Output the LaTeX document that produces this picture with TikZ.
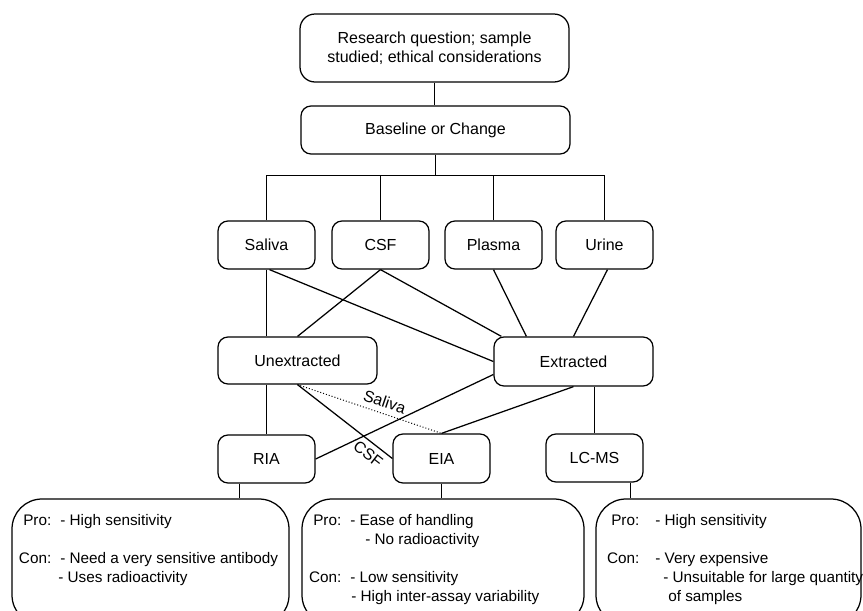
\documentclass[tikz,border=0pt]{standalone}
\usepackage{fontspec}
\setmainfont{Liberation Sans}
\usepackage{tikz}
\usetikzlibrary{positioning}

\begin{document}
\fontsize{16}{19}\selectfont
\begin{tikzpicture}[x=1pt,y=-1pt,line width=1.25pt,
  box/.style={draw,rounded corners=10pt,inner sep=0pt,minimum width=97pt,minimum height=48pt,align=center},
  bigbox/.style={draw,rounded corners=30pt,inner sep=0pt,minimum height=126pt},
  protext/.style={anchor=north west,inner sep=0pt,font=\fontsize{15.3}{19}\selectfont}]

\useasboundingbox (0,0) rectangle (863,611);
\clip (0,0) rectangle (863,611);

\def\yb{562}

\node[box,rounded corners=15pt,minimum width=269pt,minimum height=68pt] (question) at (434.5,48) {Research question; sample\\studied; ethical considerations};
\node[box,minimum width=269pt] (baseline) at (435.5,130) {Baseline or Change};

\node[box] (saliva) at (266.5,245) {Saliva};
\node[box] (csf) at (380.5,245) {CSF};
\node[box] (plasma) at (493.5,245) {Plasma};
\node[box] (urine) at (604.5,245) {Urine};

\node[box,minimum width=159pt,minimum height=47pt] (unext) at (297.5,360.5) {Unextracted};
\node[box,minimum width=159pt,minimum height=49pt] (ext) at (573.5,361.5) {Extracted};

\node[box] (ria) at (266.5,459) {RIA};
\node[box,minimum height=49pt] (eia) at (441.5,458.5) {EIA};
\node[box] (lcms) at (594.5,458) {LC-MS};

\node[bigbox,minimum width=277pt] (riabox) at (150.5,\yb) {};
\node[bigbox,minimum width=282pt] (eiabox) at (443,\yb) {};
\node[bigbox,minimum width=265pt] (lcmsbox) at (728.5,\yb) {};

% top part
\coordinate (bus) at (435.5,175.5);
\draw (question.south) -- (question.south |- baseline.north);
\draw (baseline.south) -- (baseline.south |- bus);
\draw (saliva.north) |- (bus) -| (urine.north);
\draw (csf.north) -- (csf.north |- bus);
\draw (plasma.north) -- (plasma.north |- bus);

% samples to extraction
\draw (saliva.south) -- (saliva.south |- unext.north);
\draw ([xshift=3pt]saliva.south) -- (ext.west);
\draw (csf.south) -- (unext.north);
\draw (csf.south) -- ([xshift=8pt]ext.north west);
\draw (plasma.south) -- ([xshift=33pt]ext.north west);
\draw ([xshift=3pt]urine.south) -- (ext.north);

% extraction to assay
\draw (ria.north |- unext.south) -- (ria.north);
\draw (unext.south) -- node[sloped,below,pos=0.82]{CSF} (eia.west);
\draw[line width=1pt,dotted] (unext.south) -- node[sloped,above,pos=0.58]{Saliva} (eia.north);
\draw ([yshift=-13pt]ext.west) -- (ria.east);
\draw (ext.south) -- (eia.north);
\draw (lcms.north |- ext.south) -- (lcms.north);

% assay to pros and cons
\draw ([xshift=-27pt]ria.south) -- ([xshift=-27pt]ria.south |- riabox.north);
\draw (eia.south) -- (eia.south |- eiabox.north);
\draw ([xshift=36pt]lcms.south) -- ([xshift=36pt]lcms.south |- lcmsbox.north);

\node[protext] (riatext) at ([shift={(7pt,-13pt)}]riabox.north west)
  {\begin{tabular}{@{}r@{\hspace{9pt}}l@{}}
   Pro: & - High sensitivity\\
        & \\
   Con: & - Need a very sensitive antibody\\
        & \hspace{-2pt}- Uses radioactivity
   \end{tabular}};
\node[protext] (eiatext) at ([shift={(7pt,-13pt)}]eiabox.north west)
  {\begin{tabular}{@{}r@{\hspace{9pt}}l@{}}
   Pro: & - Ease of handling\\
        & \hspace{15pt}- No radioactivity\\
        & \\
   Con: & - Low sensitivity\\
        & \hspace{1pt}- High inter-assay variability
   \end{tabular}};
\node[protext] (lcmstext) at ([shift={(11pt,-13pt)}]lcmsbox.north west)
  {\begin{tabular}{@{}r@{\hspace{16pt}}l@{}}
   Pro: & - High sensitivity\\
        & \\
   Con: & - Very expensive\\
        & \hspace{8pt}- Unsuitable for large quantity\\
        & \hspace{13pt}of samples
   \end{tabular}};

\end{tikzpicture}
\end{document}
